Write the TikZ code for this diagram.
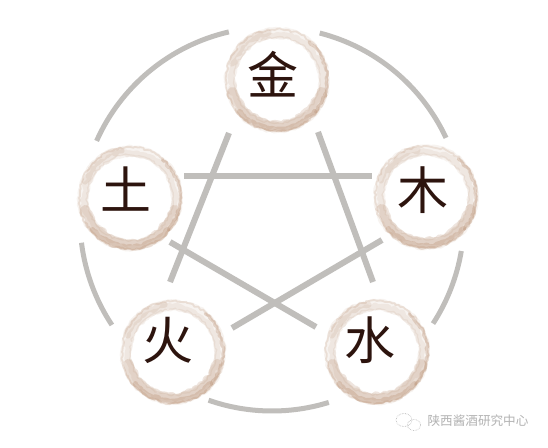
\documentclass[tikz,border=0pt]{standalone}
\usepackage{fontspec}
\usetikzlibrary{decorations.pathmorphing}
\newfontfamily\cjk{Noto Sans CJK SC}
\definecolor{ringgray}{RGB}{192,190,187}
\definecolor{stain}{RGB}{175,128,95}
\definecolor{ink}{RGB}{45,20,14}
\definecolor{wmgray}{RGB}{178,178,178}
\newcommand\coinat[2]{%
  \begin{scope}[shift={(#1,#2)}]
    \fill[white] (0,0) circle (54);
    \draw[stain, opacity=.09, line width=11, rough] (0,0) circle (47);
    \draw[stain, opacity=.10, line width=6, rougher] (0,0) circle (45);
    \draw[stain, opacity=.18, line width=1.8, rough] (0,0) circle (51);
    \draw[stain, opacity=.10, line width=1.2, rough] (0,0) circle (43);
    \draw[stain, opacity=.20, line width=10, rougher] (15:46) arc[start angle=15, end angle=165, radius=46];
    \draw[stain, opacity=.25, line width=5, rough] (40:49) arc[start angle=40, end angle=140, radius=49];
    \draw[stain, opacity=.28, line width=3, rough] (-50:50) arc[start angle=-50, end angle=40, radius=50];
    \draw[stain, opacity=.14, line width=6, rougher] (-160:48) arc[start angle=-160, end angle=-100, radius=48];
  \end{scope}}
\begin{document}
\begin{tikzpicture}[x=1pt,y=-1pt,
  ring/.style={draw=ringgray, line width=5},
  starline/.style={draw=ringgray, line width=6},
  glyph/.style={font=\cjk\fontsize{51}{51}\selectfont, text=ink, inner sep=0pt},
  rough/.style={line join=round, line cap=round, decorate, decoration={random steps, segment length=2.5pt, amplitude=1.2pt}},
  rougher/.style={line join=round, line cap=round, decorate, decoration={random steps, segment length=3pt, amplitude=2pt}}]
\pgfmathsetseed{7}
\fill[white] (0,0) rectangle (548,447);
\useasboundingbox (0,0) rectangle (548,447);
\coordinate (C) at (272,219);
% outer circle arcs
\draw[ring] (C) ++(-103:192) arc[start angle=-103, end angle=-156, radius=192];
\draw[ring] (C) ++(-25:192) arc[start angle=-25, end angle=-75.6, radius=192];
\draw[ring] (C) ++(33:192) arc[start angle=33, end angle=9.6, radius=192];
\draw[ring] (C) ++(109.3:192) arc[start angle=109.3, end angle=72.8, radius=192];
\draw[ring] (C) ++(146.5:192) arc[start angle=146.5, end angle=172.9, radius=192];
% star
\coordinate (h1) at (184,176); \coordinate (h2) at (372,176);
\coordinate (l1) at (229,133); \coordinate (l2) at (170,282);
\coordinate (r1) at (318,132); \coordinate (r2) at (373,282);
\coordinate (d1) at (170,242); \coordinate (d2) at (316,327);
\coordinate (e1) at (382,240); \coordinate (e2) at (232,328);
\draw[starline] (h1) -- (h2);
\draw[starline] (l1) -- (l2);
\draw[starline] (r1) -- (r2);
\draw[starline] (d1) -- (d2);
\draw[starline] (e1) -- (e2);
% coins
\coinat{277}{80}
\coinat{130}{198}
\coinat{426}{197}
\coinat{173}{352}
\coinat{377}{352}
\node[glyph] (jin) at (273,74) {金};
\node[glyph] (tu) at (126,189) {土};
\node[glyph] (mu) at (423,190) {木};
\node[glyph] (huo) at (168,340) {火};
\node[glyph] (shui) at (370,340) {水};
% watermark
\draw[wmgray, densely dotted, line width=0.6] (404,420) ellipse[x radius=8, y radius=6.5];
\draw[wmgray, densely dotted, line width=0.6] (414,425) ellipse[x radius=6.5, y radius=5.5];
\node[font=\cjk\fontsize{12.6}{13}\selectfont, text=wmgray, inner sep=0pt] (wm) at (478,421) {陕西酱酒研究中心};
\end{tikzpicture}
\end{document}
